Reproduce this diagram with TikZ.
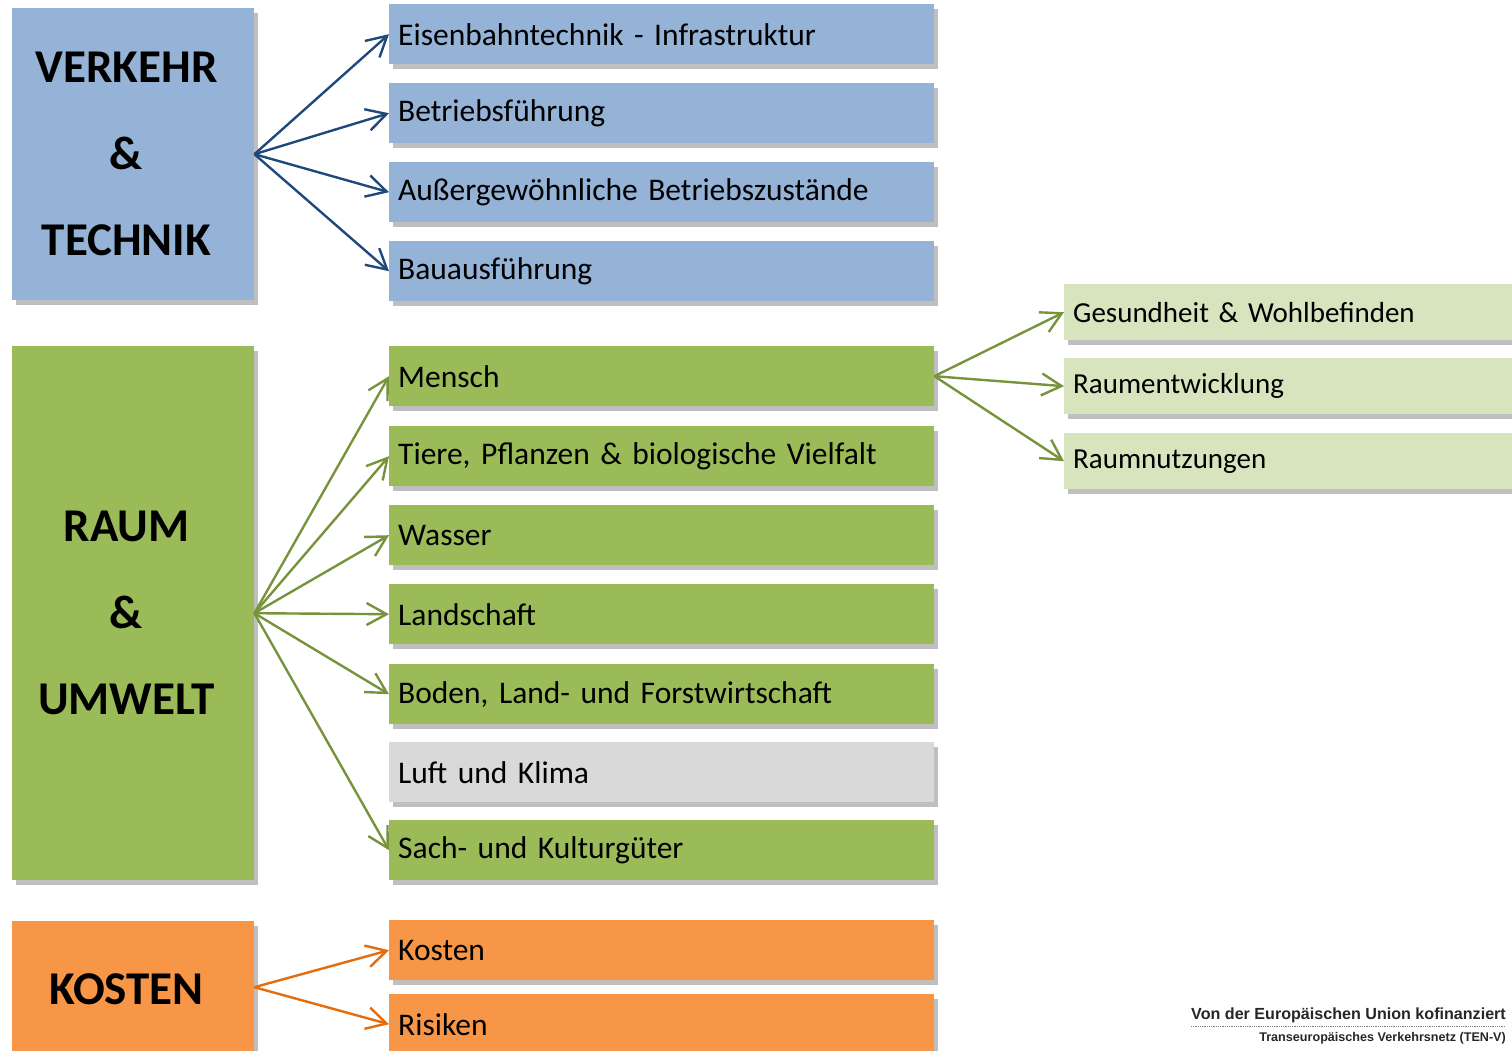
\documentclass[tikz,border=0pt]{standalone}
\usepackage{fontspec}
\setmainfont{Carlito}
\newfontfamily\arialfont{Liberation Sans}
\newcommand\myitemfont{\fontsize{31.5}{36}\selectfont\spaceskip=6.8pt\relax}
\newcommand\mysubfont{\fontsize{29}{34}\selectfont\spaceskip=6.3pt\relax}
\usetikzlibrary{arrows.meta,shadows}
\definecolor{bluefill}{HTML}{95B3D7}
\definecolor{greenfill}{HTML}{9BBB59}
\definecolor{lightgreen}{HTML}{D7E4BD}
\definecolor{orangefill}{HTML}{F79646}
\definecolor{greyfill}{HTML}{D9D9D9}
\definecolor{bluearrow}{HTML}{1F497D}
\definecolor{greenarrow}{HTML}{77933C}
\definecolor{orangearrow}{HTML}{E46C0A}
\begin{document}
\begin{tikzpicture}[x=1pt,y=-1pt,
  shadowed/.style={drop shadow={shadow xshift=4pt,shadow yshift=-5pt,opacity=0.25,fill=black}},
  bigbox/.style={shadowed,anchor=north west,inner sep=0pt,minimum width=242pt},
  bigtext/.style={align=center,inner sep=0pt,font=\bfseries\fontsize{47}{86.5}\selectfont},
  itembox/.style={shadowed,anchor=north west,inner xsep=9pt,inner ysep=0pt,minimum height=60pt,
     text width=527pt,align=left,font=\myitemfont},
  subbox/.style={shadowed,anchor=north west,inner xsep=9pt,inner ysep=0pt,minimum height=56pt,
     text width=470pt,align=left,fill=lightgreen,font=\mysubfont},
  conn/.style={line width=2.4pt,-{Straight Barb[length=20pt,width=22pt,line width=2.4pt]}},
]
\useasboundingbox (0,0) rectangle (1512,1050);

% left category boxes
\node[bigbox,fill=bluefill,minimum height=292pt] (vt) at (12,8) {};
\node[bigtext] (vtlabel) at (126.5,154) {VERKEHR\\\&\\TECHNIK};
\node[bigbox,fill=greenfill,minimum height=534pt] (ru) at (12,346) {};
\node[bigtext] (rulabel) at (126.5,613) {RAUM\\\&\\UMWELT};
\node[bigbox,fill=orangefill,minimum height=132pt] (ko) at (12,921) {};
\node[bigtext] (kolabel) at (126.5,989) {KOSTEN};

% blue items
\node[itembox,fill=bluefill] (b1) at (389,4) {Eisenbahntechnik - Infrastruktur};
\node[itembox,fill=bluefill] (b2) at (389,83) {Betriebsführung};
\node[itembox,fill=bluefill] (b3) at (389,162) {Außergewöhnliche Betriebszustände};
\node[itembox,fill=bluefill] (b4) at (389,241) {Bauausführung};

% green items
\node[itembox,fill=greenfill] (g1) at (389,346) {Mensch};
\node[itembox,fill=greenfill] (g2) at (389,426) {Tiere, Pflanzen \& biologische Vielfalt};
\node[itembox,fill=greenfill] (g3) at (389,505) {Wasser};
\node[itembox,fill=greenfill] (g4) at (389,584) {Landschaft};
\node[itembox,fill=greenfill] (g5) at (389,664) {Boden, Land- und Forstwirtschaft};
\node[itembox,fill=greyfill] (g6) at (389,742) {Luft und Klima};
\node[itembox,fill=greenfill] (g7) at (389,820) {Sach- und Kulturgüter};

% orange items
\node[itembox,fill=orangefill] (o1) at (389,920) {Kosten};
\node[itembox,fill=orangefill] (o2) at (389,994) {Risiken};

% sub items of Mensch
\node[subbox] (s1) at (1064,284) {Gesundheit \& Wohlbefinden};
\node[subbox] (s2) at (1064,358) {Raumentwicklung};
\node[subbox] (s3) at (1064,433) {Raumnutzungen};

% connectors
\foreach \t in {b1,b2,b3,b4} \draw[conn,bluearrow] (vt.east) -- (\t.west);
\foreach \t in {g1,g2,g3,g4,g5,g7} \draw[conn,greenarrow] (ru.east) -- (\t.west);
\foreach \t in {o1,o2} \draw[conn,orangearrow] (ko.east) -- (\t.west);
\foreach \t in {s1,s2,s3} \draw[conn,greenarrow] (g1.east) -- (\t.west);

% footer
\node[anchor=south east,inner sep=0pt,font=\arialfont\bfseries\fontsize{16.1}{18}\selectfont,text=black!85] (f1) at (1506,1023) {Von der Europäischen Union kofinanziert};
\draw[densely dotted,gray,line width=0.8pt] (f1.south west) ++(0,3) coordinate (fl) -- (f1.south east |- fl);
\node[anchor=south east,inner sep=0pt,font=\arialfont\bfseries\fontsize{12.6}{14}\selectfont,text=black!85] (f2) at (1506,1044) {Transeuropäisches Verkehrsnetz (TEN-V)};
\end{tikzpicture}
\end{document}
